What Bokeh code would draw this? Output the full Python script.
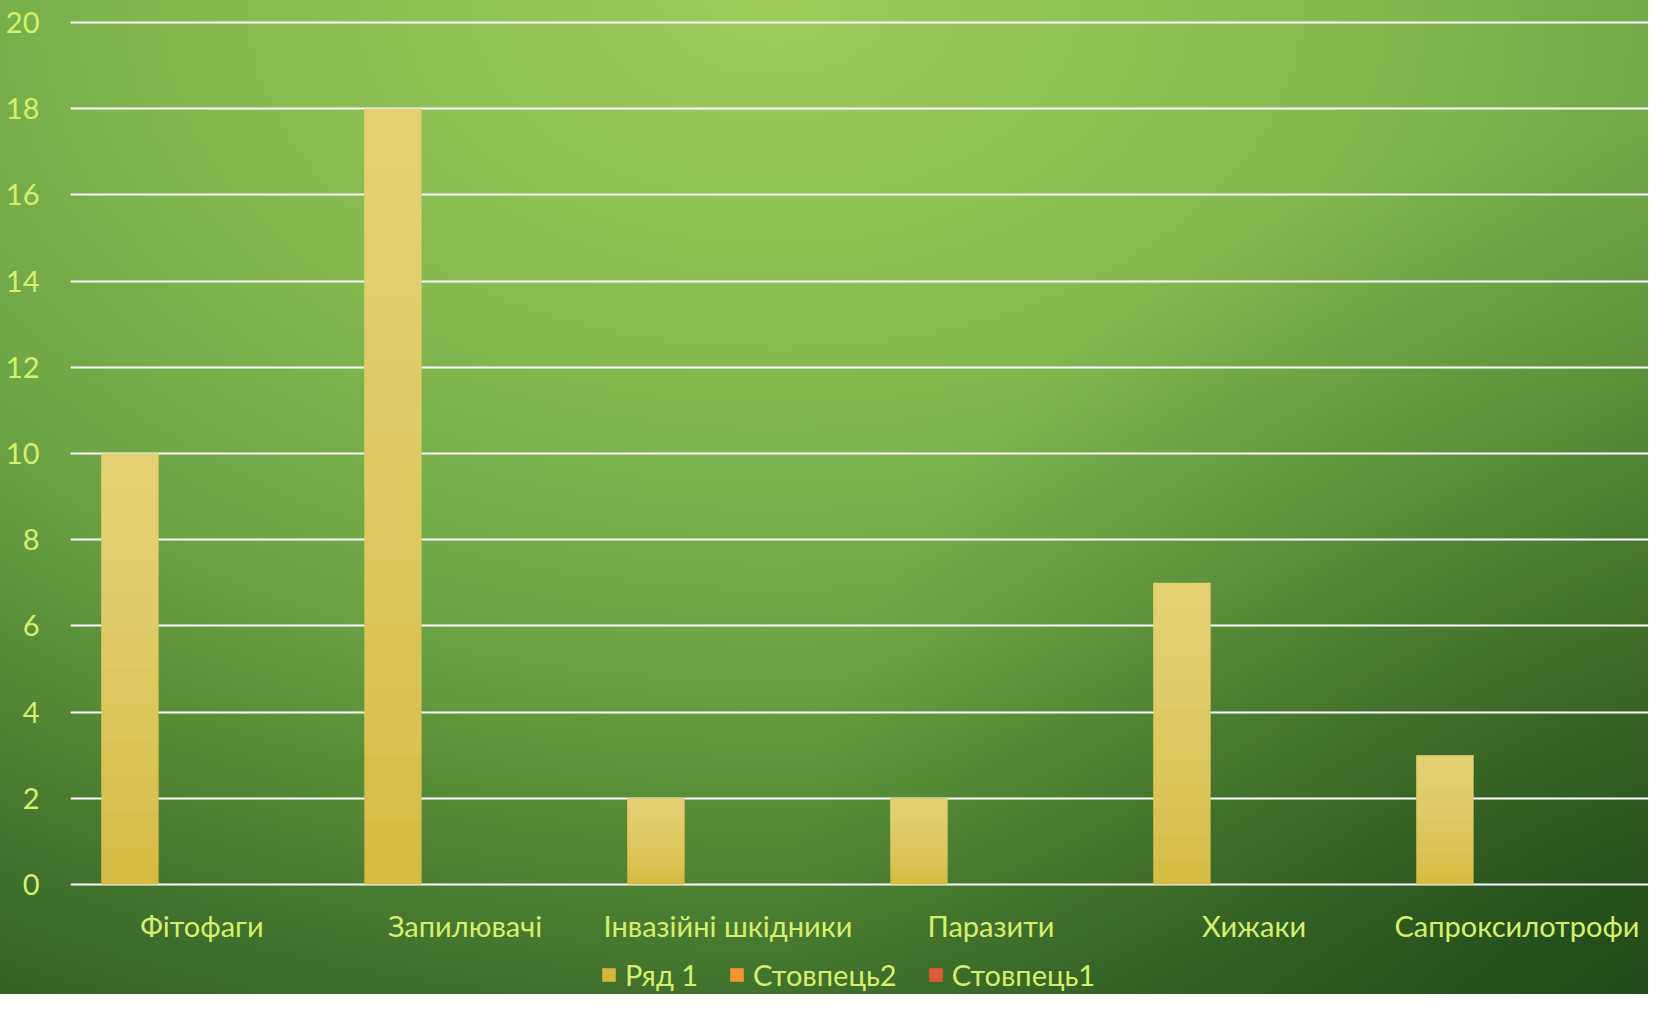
from bokeh.plotting import figure
from bokeh.models import FactorRange, Range1d, Legend, LegendItem, FixedTicker, ColumnDataSource
from bokeh.transform import dodge
from bokeh.core.properties import value
from bokeh.embed import file_html
from bokeh.resources import INLINE

categories = ["Фітофаги", "Запилювачі", "Інвазійні шкідники", "Паразити", "Хижаки", "Сапроксилотрофи"]
series_names = ["Ряд 1", "Стовпець2", "Стовпець1"]
ryad1 = [10, 18, 2, 2, 7, 3]
stovpets2 = [None, None, None, None, None, None]
stovpets1 = [None, None, None, None, None, None]
y_ticks = [0, 2, 4, 6, 8, 10, 12, 14, 16, 18, 20]

FONT = "Lato"
TXT = "#d5f06e"

src = ColumnDataSource(dict(
    cat=categories,
    r1=ryad1,
    s2=[float("nan") if v is None else v for v in stovpets2],
    s1=[float("nan") if v is None else v for v in stovpets1],
))

p = figure(
    width=1648, height=994,
    x_range=FactorRange(factors=categories, range_padding=0),
    y_range=Range1d(-2.552, 20.325),
    output_backend="svg", toolbar_location=None,
    min_border_left=70, min_border_right=0, min_border_top=8, min_border_bottom=0,
)
p.styles = {
    "background": "radial-gradient(circle at 100% 100%, rgba(18,55,14,0.55) 0%, rgba(18,55,14,0) 45%), "
                  "radial-gradient(ellipse 110% 120% at 47% 0%, #9ecb5c 0%, #88bc51 28%, #6ca444 55%, "
                  "#528634 72%, #3e6e2c 85%, #2e5a22 100%)"
}
p.background_fill_color = None
p.border_fill_color = None
p.outline_line_color = None

p.xaxis.visible = False
p.xgrid.grid_line_color = None
p.ygrid.grid_line_color = "white"
p.ygrid.grid_line_width = 2
p.ygrid.ticker = FixedTicker(ticks=y_ticks)

p.yaxis.ticker = FixedTicker(ticks=y_ticks)
p.yaxis.axis_line_color = None
p.yaxis.major_tick_line_color = None
p.yaxis.minor_tick_line_color = None
p.yaxis.major_label_standoff = 25
p.yaxis.major_label_text_font = FONT
p.yaxis.major_label_text_font_size = "29px"
p.yaxis.major_label_text_color = TXT

# category labels under the baseline
p.text(x="cat", y=-0.951, text="cat", source=src, text_align="center", text_baseline="middle",
       text_font=value(FONT), text_font_size="29px", text_color=TXT)

BW = 0.218
OFF = [-0.274, -0.056, 0.162]
r1 = p.vbar(x=dodge("cat", OFF[0], range=p.x_range), top="r1", width=BW, source=src,
            fill_color="#d4b83e", line_color=None)
# lighter shading towards the top of each bar
N = 12
for i in range(1, N + 1):
    frac = i / N
    s = ColumnDataSource(dict(cat=categories, top=ryad1, bottom=[v * (1 - frac) for v in ryad1]))
    p.vbar(x=dodge("cat", OFF[0], range=p.x_range), top="top", bottom="bottom", width=BW, source=s,
           fill_color="#f0e396", fill_alpha=0.08, line_color=None)
r2 = p.vbar(x=dodge("cat", OFF[1], range=p.x_range), top="s2", width=BW, source=src,
            fill_color="#f59432", line_color=None)
r3 = p.vbar(x=dodge("cat", OFF[2], range=p.x_range), top="s1", width=BW, source=src,
            fill_color="#e05a3a", line_color=None)

legend = Legend(items=[
    LegendItem(label=series_names[0], renderers=[r1]),
    LegendItem(label=series_names[1], renderers=[r2]),
    LegendItem(label=series_names[2], renderers=[r3]),
], orientation="horizontal", location=(530, 2))
legend.background_fill_alpha = 0
legend.border_line_color = None
legend.label_text_font = FONT
legend.label_text_font_size = "29px"
legend.label_text_color = TXT
legend.glyph_width = 17
legend.glyph_height = 17
legend.label_standoff = 8
legend.spacing = 30
legend.padding = 0
legend.margin = 0
p.add_layout(legend)

open("out.html", "w").write(file_html(p, INLINE))
